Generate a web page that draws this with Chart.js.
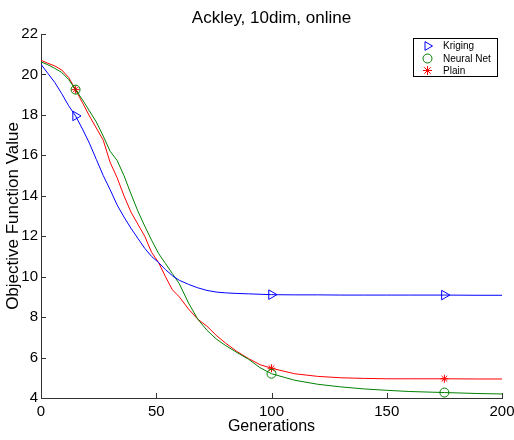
<!DOCTYPE html>
<html lang="en">
<head>
  <meta charset="UTF-8" />
  <title>Ackley, 10dim, online</title>
  <script src="https://cdn.jsdelivr.net/npm/chart.js"></script>
  <style>
    html, body { margin: 0; padding: 0; background: #fff; }
    #wrap { width: 514px; height: 440px; }
  </style>
</head>
<body>
  <div id="wrap"><canvas id="ackleyChart" width="514" height="440"></canvas></div>

  <script>
    // generations sampled along the curves
    const generations = [0, 3, 6, 9, 12, 15, 18, 21, 24, 27, 30, 33, 36, 39, 42, 45, 48, 51, 54, 57,
      60, 64, 68, 72, 76, 80, 85, 90, 95, 100, 110, 120, 130, 140, 150, 160, 175, 190, 200];

    const kriging = [20.5, 20.05, 19.6, 19.05, 18.45, 17.95, 17.3, 16.6, 15.8, 15.0, 14.3, 13.55, 12.95, 12.4, 11.9, 11.4, 11.0, 10.7, 10.35, 10.05,
      9.82, 9.62, 9.45, 9.32, 9.24, 9.2, 9.17, 9.15, 9.13, 9.11, 9.1, 9.1, 9.09, 9.09, 9.09, 9.09, 9.09, 9.08, 9.08];

    const neuralNet = [20.62, 20.48, 20.3, 20.1, 19.75, 19.25, 18.75, 18.2, 17.65, 16.95, 16.2, 15.75, 15.0, 14.1, 13.25, 12.5, 11.8, 11.15, 10.65, 10.15,
      9.65, 8.7, 7.9, 7.35, 6.92, 6.6, 6.25, 5.92, 5.5, 5.2, 4.88, 4.68, 4.55, 4.45, 4.38, 4.32, 4.27, 4.22, 4.2];

    const plain = [20.7, 20.55, 20.42, 20.22, 19.85, 19.25, 18.6, 17.95, 17.35, 16.75, 15.65, 14.9, 14.0, 13.2, 12.6, 12.0, 11.2, 10.7, 10.0, 9.35,
      9.0, 8.4, 7.9, 7.55, 7.1, 6.72, 6.3, 5.95, 5.65, 5.47, 5.2, 5.07, 5.0, 4.97, 4.95, 4.95, 4.95, 4.94, 4.94];

    // generations where the markers sit
    const markerGens = [15, 100, 175];

    const xTicks = [0, 50, 100, 150, 200];
    const yTicks = [4, 6, 8, 10, 12, 14, 16, 18, 20, 22];

    const seriesNames = ['Kriging', 'Neural Net', 'Plain'];
    const seriesColors = ['#0000ff', '#008000', '#ff0000'];
    const seriesStyles = ['triangle', 'circle', 'star'];
    const seriesRotation = [90, 0, 0];
    const seriesRadius = [5.5, 4.5, 4];

    Chart.defaults.font.family = '"Liberation Sans", Arial, Helvetica, sans-serif';
    Chart.defaults.color = '#000';

    const toPoints = vals => generations.map((g, i) => ({ x: g, y: vals[i] }));
    const allSeries = [kriging, neuralNet, plain];

    const datasets = allSeries.map((vals, i) => ({
      label: seriesNames[i],
      data: toPoints(vals),
      borderColor: seriesColors[i],
      backgroundColor: 'rgba(0,0,0,0)',
      borderWidth: 1,
      tension: 0,
      pointStyle: seriesStyles[i],
      pointRotation: seriesRotation[i],
      pointBorderColor: seriesColors[i],
      pointBackgroundColor: 'rgba(0,0,0,0)',
      pointBorderWidth: 1,
      pointRadius: ctx => (ctx.raw && markerGens.includes(ctx.raw.x)) ? seriesRadius[i] : 0,
      pointHoverRadius: 0
    }));

    const axisColor = '#333';

    // small tick marks pointing into the plot, like the original figure
    const inwardTicks = {
      id: 'inwardTicks',
      afterDatasetsDraw(chart) {
        const ctx = chart.ctx;
        const xs = chart.scales.x, ys = chart.scales.y;
        const area = chart.chartArea;
        ctx.save();
        ctx.strokeStyle = axisColor;
        ctx.lineWidth = 1;
        ctx.beginPath();
        xTicks.forEach(v => {
          const px = Math.round(xs.getPixelForValue(v)) + 0.5;
          ctx.moveTo(px, area.bottom);
          ctx.lineTo(px, area.bottom - 5);
        });
        yTicks.forEach(v => {
          const py = Math.round(ys.getPixelForValue(v)) + 0.5;
          ctx.moveTo(area.left, py);
          ctx.lineTo(area.left + 5, py);
        });
        ctx.stroke();
        ctx.restore();
      }
    };

    // boxed legend in the top right corner
    const boxLegend = {
      id: 'boxLegend',
      afterDraw(chart) {
        const ctx = chart.ctx;
        const bx = 413.5, by = 38.5, bw = 84, bh = 38;
        ctx.save();
        ctx.fillStyle = '#fff';
        ctx.fillRect(bx, by, bw, bh);
        ctx.strokeStyle = '#000';
        ctx.lineWidth = 1;
        ctx.strokeRect(bx, by, bw, bh);
        ctx.font = '10px "Liberation Sans", Arial, sans-serif';
        ctx.textBaseline = 'middle';
        ctx.textAlign = 'left';
        const rows = [46, 58.5, 70.5];
        seriesNames.forEach((name, i) => {
          ctx.strokeStyle = seriesColors[i];
          ctx.fillStyle = 'rgba(0,0,0,0)';
          ctx.lineWidth = 1;
          Chart.helpers.drawPoint(ctx, {
            pointStyle: seriesStyles[i],
            radius: i === 0 ? 5 : 4.5,
            rotation: seriesRotation[i],
            borderWidth: 1
          }, 427.5, rows[i]);
          ctx.fillStyle = '#000';
          ctx.fillText(name, 443, rows[i] + 0.5);
        });
        ctx.restore();
      }
    };

    new Chart(document.getElementById('ackleyChart'), {
      type: 'line',
      data: { datasets: datasets },
      options: {
        responsive: false,
        animation: false,
        events: [],
        layout: { padding: { top: 0, right: 12, bottom: 0, left: 0 } },
        plugins: {
          legend: { display: false },
          tooltip: { enabled: false },
          title: {
            display: true,
            text: 'Ackley, 10dim, online',
            fullSize: false,
            color: '#000',
            font: { size: 17, weight: 'normal' },
            padding: { top: 8, bottom: 5.6 }
          }
        },
        scales: {
          x: {
            type: 'linear',
            min: 0,
            max: 200,
            afterFit: s => { s.height = 42; s.paddingRight = 12; s.paddingLeft = 0; },
            afterBuildTicks: s => { s.ticks = xTicks.map(v => ({ value: v })); },
            grid: { display: false, drawTicks: false },
            border: { display: true, color: axisColor, width: 1 },
            ticks: { padding: 5, font: { size: 15 }, color: '#000', maxRotation: 0 },
            title: {
              display: true,
              text: 'Generations',
              color: '#000',
              font: { size: 16 },
              padding: { top: 0, bottom: 4 }
            }
          },
          y: {
            min: 4,
            max: 22,
            afterFit: s => { s.width = 41; },
            afterBuildTicks: s => { s.ticks = yTicks.map(v => ({ value: v })); },
            grid: { display: false, drawTicks: false },
            border: { display: true, color: axisColor, width: 1 },
            ticks: { padding: 3, font: { size: 15 }, color: '#000' },
            title: {
              display: true,
              text: 'Objective Function Value',
              color: '#000',
              font: { size: 17 },
              padding: { top: 3, bottom: 0 }
            }
          }
        }
      },
      plugins: [inwardTicks, boxLegend]
    });
  </script>
</body>
</html>
